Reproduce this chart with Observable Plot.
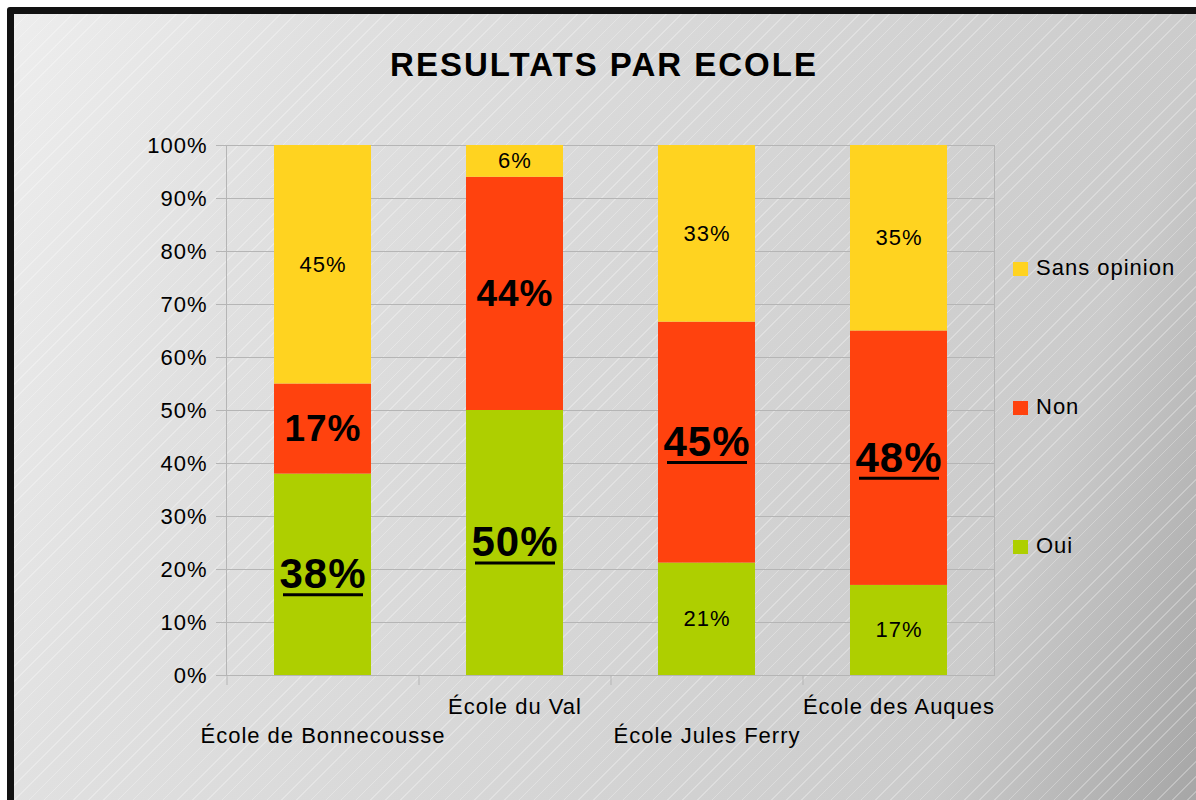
<!DOCTYPE html>
<html>
<head>
<meta charset="utf-8">
<script src="https://cdn.jsdelivr.net/npm/d3@7"></script>
<script src="https://cdn.jsdelivr.net/npm/@observablehq/plot@0.6"></script>
<style>
  html, body { margin: 0; padding: 0; background: #fff; overflow: hidden; }
  #stage { position: relative; width: 1196px; height: 800px; overflow: hidden; font-family: "Liberation Sans", Arial, sans-serif; }
  #frame {
    position: absolute; left: 7px; top: 7px; width: 1250px; height: 850px;
    border: 7px solid #111; border-radius: 3px; box-sizing: border-box;
    background:
      repeating-linear-gradient(135deg, rgba(255,255,255,0) 0px, rgba(255,255,255,0) 9.5px, rgba(255,255,255,0.28) 9.5px, rgba(255,255,255,0.28) 10.5px),
      linear-gradient(110deg, #ededed 0%, #e0e0e0 20%, #d6d6d6 50%, #cbcbcb 78%, #9c9c9c 100%);
  }
  #chart { position: absolute; left: 0; top: 0; }
  #title { position: absolute; left: 0; width: 1208px; top: 48px; text-align: center; font-size: 33px; line-height: 33px; font-weight: bold; letter-spacing: 2px; color: #000; }
  .legend-item { position: absolute; left: 1013px; height: 22px; }
  .legend-item .sw { position: absolute; left: 0; width: 15px; height: 14px; }
  .legend-item .lb { position: absolute; left: 23px; top: 0; font-size: 22px; line-height: 22px; white-space: nowrap; letter-spacing: 1px; color: #000; }
  #chart text { letter-spacing: 1px; }
</style>
</head>
<body>
<div id="stage">
  <div id="frame"></div>
  <div id="chart"></div>
  <div id="title"></div>
  <div id="legend"></div>
</div>
<script>
// ---- Data ----
const titleText = "RESULTATS PAR ECOLE";
const schools = ["École de Bonnecousse", "École du Val", "École Jules Ferry", "École des Auques"];
const answers = ["Oui", "Non", "Sans opinion"];
const oui = [38, 50, 21, 17];
const non = [17, 44, 45, 48];
const sansOpinion = [45, 6, 33, 35];
const yTicks = [0, 0.1, 0.2, 0.3, 0.4, 0.5, 0.6, 0.7, 0.8, 0.9, 1];
const colors = ["#AECF00", "#FF420E", "#FFD320"];

// ---- Table built from arrays ----
const seriesValues = [oui, non, sansOpinion];
const table = schools.flatMap((school, i) =>
  answers.map((answer, k) => ({school, answer, value: seriesValues[k][i], idx: i}))
);
// the winner between Oui and Non is emphasised (underlined); Non is always bold
const isWinner = d => (d.answer === "Oui" && oui[d.idx] > non[d.idx]) || (d.answer === "Non" && non[d.idx] >= oui[d.idx]);
const isNonBold = d => d.answer === "Non" && !isWinner(d);
const isNormal = d => !isWinner(d) && !isNonBold(d);

const W = 1196, H = 800;
const mL = 226, mR = 202, mT = 145, mB = 125;
const step = (W - mL - mR) / schools.length;

const stackOpts = (extra) => Plot.stackY({
  x: "school", y: "value", z: "answer", order: answers, offset: "normalize", ...extra
});

const plot = Plot.plot({
  width: W, height: H,
  marginLeft: mL, marginRight: mR, marginTop: mT, marginBottom: mB,
  style: {background: "transparent", fontFamily: "\"Liberation Sans\", Arial, sans-serif", fontSize: "22px", color: "#000"},
  x: {domain: schools, paddingInner: 0.495, paddingOuter: 0.2475, label: null},
  y: {domain: [0, 1], label: null},
  color: {domain: answers, range: colors},
  opacity: {domain: [0, 1], range: [0, 1]},
  marks: [
    Plot.gridY(yTicks, {stroke: "#b5b5b5", strokeOpacity: 1}),
    Plot.frame({stroke: "#b5b5b5"}),
    Plot.axisY({ticks: yTicks, tickSize: 10, tickPadding: 9, fontSize: 22, stroke: "#b5b5b5", fill: "#000", label: null,
      tickFormat: d => Math.round(d * 100) + "%"}),
    Plot.axisX({tickSize: 10, dx: -step / 2, tickFormat: () => "", stroke: "#b5b5b5", label: null}),
    Plot.axisX({ticks: schools.filter((s, i) => i % 2 === 0), tickSize: 0, tickPadding: 52, fontSize: 22, fill: "#000", label: null}),
    Plot.axisX({ticks: schools.filter((s, i) => i % 2 === 1), tickSize: 0, tickPadding: 23, fontSize: 22, fill: "#000", label: null}),
    Plot.barY(table, stackOpts({fill: "answer"})),
    Plot.text(table, stackOpts({text: d => isNormal(d) ? d.value + "%" : "", fontSize: 22, fill: "#000"})),
    Plot.text(table, stackOpts({text: d => isNonBold(d) ? d.value + "%" : "", fontSize: 37, fontWeight: "bold", fill: "#000"})),
    Plot.text(table, stackOpts({text: d => isWinner(d) ? d.value + "%" : "", fontSize: 42, fontWeight: "bold", fill: "#000"})),
    // underline of the emphasised labels
    Plot.tickY(table, stackOpts({stroke: "#000", strokeWidth: 3, strokeOpacity: d => isWinner(d) ? 1 : 0,
      insetLeft: 9, insetRight: 8, dy: 20}))
  ]
});
document.getElementById("chart").appendChild(plot);

document.getElementById("title").textContent = titleText;

// legend (vertical, top = last series)
const legendBaselines = [554, 415, 276];
const legend = document.getElementById("legend");
answers.forEach((a, k) => {
  const item = document.createElement("div");
  item.className = "legend-item";
  item.style.top = (legendBaselines[k] - 18.6) + "px";
  const sw = document.createElement("div");
  sw.className = "sw";
  sw.style.background = colors[k];
  sw.style.top = "4.6px";
  const lb = document.createElement("div");
  lb.className = "lb";
  lb.textContent = a;
  item.appendChild(sw);
  item.appendChild(lb);
  legend.appendChild(item);
});
</script>
</body>
</html>
